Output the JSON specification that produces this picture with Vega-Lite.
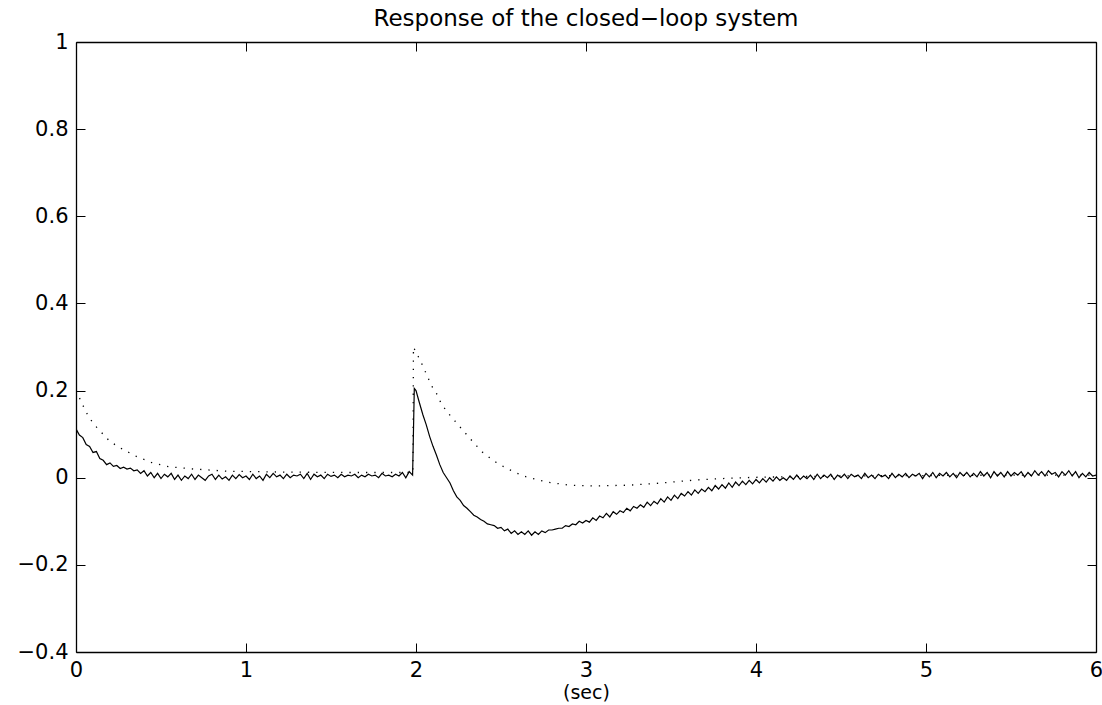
{
  "$schema": "https://vega.github.io/schema/vega-lite/v6.json",
  "width": 1020,
  "height": 610,
  "autosize": {"type": "none"},
  "padding": {"left": 76, "top": 42, "right": 6, "bottom": 53},
  "background": "white",
  "config": {
    "view": {"stroke": null},
    "font": "DejaVu Sans",
    "axis": {"grid": false, "domainColor": "black", "domainWidth": 1.3, "tickColor": "black", "tickWidth": 1, "labelColor": "black", "labelFont": "DejaVu Sans", "labelFontSize": 21, "titleFont": "DejaVu Sans", "titleFontWeight": "normal", "titleColor": "black"}
  },
  "title": {"text": "Response of the closed−loop system", "font": "DejaVu Sans", "fontSize": 23, "fontWeight": "normal", "color": "black", "offset": 0, "anchor": "middle", "frame": "group"},
  "datasets": {
    "solid": [
      {"t":0.00,"v":0.112},{"t":0.02,"v":0.098},{"t":0.04,"v":0.092},{"t":0.06,"v":0.076},{"t":0.08,"v":0.072},{"t":0.10,"v":0.058},{"t":0.12,"v":0.060},{"t":0.14,"v":0.044},{"t":0.16,"v":0.040},{"t":0.18,"v":0.030},
      {"t":0.20,"v":0.034},{"t":0.22,"v":0.026},{"t":0.24,"v":0.028},{"t":0.26,"v":0.021},{"t":0.28,"v":0.024},{"t":0.30,"v":0.020},{"t":0.32,"v":0.022},{"t":0.34,"v":0.016},{"t":0.36,"v":0.018},{"t":0.38,"v":0.010},
      {"t":0.40,"v":0.016},{"t":0.42,"v":0.004},{"t":0.44,"v":0.012},{"t":0.46,"v":0.000},{"t":0.48,"v":0.010},{"t":0.50,"v":-0.002},{"t":0.52,"v":0.008},{"t":0.54,"v":0.002},{"t":0.56,"v":0.010},{"t":0.58,"v":-0.004},
      {"t":0.60,"v":0.006},{"t":0.62,"v":-0.006},{"t":0.64,"v":0.004},{"t":0.66,"v":-0.002},{"t":0.68,"v":0.008},{"t":0.70,"v":-0.004},{"t":0.72,"v":0.006},{"t":0.74,"v":0.000},{"t":0.76,"v":-0.006},{"t":0.78,"v":0.004},
      {"t":0.80,"v":0.008},{"t":0.82,"v":-0.004},{"t":0.84,"v":0.006},{"t":0.86,"v":-0.003},{"t":0.88,"v":0.002},{"t":0.90,"v":-0.006},{"t":0.92,"v":0.006},{"t":0.94,"v":-0.002},{"t":0.96,"v":0.007},{"t":0.98,"v":0.000},
      {"t":1.00,"v":0.004},{"t":1.02,"v":-0.004},{"t":1.04,"v":0.008},{"t":1.06,"v":-0.002},{"t":1.08,"v":0.004},{"t":1.10,"v":-0.006},{"t":1.12,"v":0.008},{"t":1.14,"v":0.000},{"t":1.16,"v":0.010},{"t":1.18,"v":0.002},
      {"t":1.20,"v":0.006},{"t":1.22,"v":-0.002},{"t":1.24,"v":0.008},{"t":1.26,"v":0.000},{"t":1.28,"v":0.006},{"t":1.30,"v":0.004},{"t":1.32,"v":0.008},{"t":1.34,"v":-0.002},{"t":1.36,"v":0.010},{"t":1.38,"v":-0.004},
      {"t":1.40,"v":0.008},{"t":1.42,"v":0.002},{"t":1.44,"v":0.006},{"t":1.46,"v":-0.002},{"t":1.48,"v":0.008},{"t":1.50,"v":0.003},{"t":1.52,"v":0.006},{"t":1.54,"v":0.000},{"t":1.56,"v":0.008},{"t":1.58,"v":0.002},
      {"t":1.60,"v":0.006},{"t":1.62,"v":0.004},{"t":1.64,"v":0.008},{"t":1.66,"v":0.000},{"t":1.68,"v":0.006},{"t":1.70,"v":0.002},{"t":1.72,"v":0.008},{"t":1.74,"v":0.004},{"t":1.76,"v":0.006},{"t":1.78,"v":0.000},
      {"t":1.80,"v":0.010},{"t":1.82,"v":0.004},{"t":1.84,"v":0.006},{"t":1.86,"v":0.002},{"t":1.88,"v":0.008},{"t":1.90,"v":0.004},{"t":1.92,"v":0.012},{"t":1.94,"v":0.000},{"t":1.96,"v":0.014},{"t":1.98,"v":0.006},
      {"t":1.99,"v":0.205},{"t":2.00,"v":0.200},{"t":2.02,"v":0.172},{"t":2.04,"v":0.145},{"t":2.06,"v":0.122},{"t":2.08,"v":0.095},{"t":2.10,"v":0.072},{"t":2.12,"v":0.052},{"t":2.14,"v":0.030},{"t":2.16,"v":0.012},{"t":2.18,"v":0.000},
      {"t":2.20,"v":-0.012},{"t":2.22,"v":-0.030},{"t":2.24,"v":-0.044},{"t":2.26,"v":-0.052},{"t":2.28,"v":-0.064},{"t":2.30,"v":-0.070},{"t":2.32,"v":-0.078},{"t":2.34,"v":-0.086},{"t":2.36,"v":-0.090},{"t":2.38,"v":-0.096},
      {"t":2.40,"v":-0.100},{"t":2.42,"v":-0.106},{"t":2.44,"v":-0.108},{"t":2.46,"v":-0.110},{"t":2.48,"v":-0.116},{"t":2.50,"v":-0.114},{"t":2.52,"v":-0.122},{"t":2.54,"v":-0.118},{"t":2.56,"v":-0.128},{"t":2.58,"v":-0.122},
      {"t":2.60,"v":-0.130},{"t":2.62,"v":-0.124},{"t":2.64,"v":-0.130},{"t":2.66,"v":-0.122},{"t":2.68,"v":-0.132},{"t":2.70,"v":-0.124},{"t":2.72,"v":-0.130},{"t":2.74,"v":-0.122},{"t":2.76,"v":-0.126},{"t":2.78,"v":-0.120},
      {"t":2.80,"v":-0.120},{"t":2.82,"v":-0.118},{"t":2.84,"v":-0.116},{"t":2.86,"v":-0.116},{"t":2.88,"v":-0.110},{"t":2.90,"v":-0.112},{"t":2.92,"v":-0.106},{"t":2.94,"v":-0.108},{"t":2.96,"v":-0.100},{"t":2.98,"v":-0.104},
      {"t":3.00,"v":-0.098},{"t":3.02,"v":-0.102},{"t":3.04,"v":-0.092},{"t":3.06,"v":-0.098},{"t":3.08,"v":-0.088},{"t":3.10,"v":-0.092},{"t":3.12,"v":-0.082},{"t":3.14,"v":-0.090},{"t":3.16,"v":-0.078},{"t":3.18,"v":-0.084},
      {"t":3.20,"v":-0.076},{"t":3.22,"v":-0.080},{"t":3.24,"v":-0.070},{"t":3.26,"v":-0.076},{"t":3.28,"v":-0.066},{"t":3.30,"v":-0.070},{"t":3.32,"v":-0.062},{"t":3.34,"v":-0.068},{"t":3.36,"v":-0.056},{"t":3.38,"v":-0.064},
      {"t":3.40,"v":-0.054},{"t":3.42,"v":-0.060},{"t":3.44,"v":-0.048},{"t":3.46,"v":-0.056},{"t":3.48,"v":-0.044},{"t":3.50,"v":-0.052},{"t":3.52,"v":-0.040},{"t":3.54,"v":-0.048},{"t":3.56,"v":-0.036},{"t":3.58,"v":-0.042},
      {"t":3.60,"v":-0.032},{"t":3.62,"v":-0.040},{"t":3.64,"v":-0.028},{"t":3.66,"v":-0.036},{"t":3.68,"v":-0.026},{"t":3.70,"v":-0.032},{"t":3.72,"v":-0.022},{"t":3.74,"v":-0.030},{"t":3.76,"v":-0.018},{"t":3.78,"v":-0.026},
      {"t":3.80,"v":-0.016},{"t":3.82,"v":-0.024},{"t":3.84,"v":-0.012},{"t":3.86,"v":-0.022},{"t":3.88,"v":-0.010},{"t":3.90,"v":-0.018},{"t":3.92,"v":-0.008},{"t":3.94,"v":-0.016},{"t":3.96,"v":-0.006},{"t":3.98,"v":-0.014},
      {"t":4.00,"v":-0.004},{"t":4.02,"v":-0.012},{"t":4.04,"v":-0.002},{"t":4.06,"v":-0.010},{"t":4.08,"v":0.000},{"t":4.10,"v":-0.008},{"t":4.12,"v":0.002},{"t":4.14,"v":-0.006},{"t":4.16,"v":0.000},{"t":4.18,"v":-0.006},
      {"t":4.20,"v":0.004},{"t":4.22,"v":-0.004},{"t":4.24,"v":0.006},{"t":4.26,"v":-0.004},{"t":4.28,"v":0.004},{"t":4.30,"v":-0.002},{"t":4.32,"v":0.006},{"t":4.34,"v":-0.004},{"t":4.36,"v":0.008},{"t":4.38,"v":-0.002},
      {"t":4.40,"v":0.006},{"t":4.42,"v":0.000},{"t":4.44,"v":0.008},{"t":4.46,"v":-0.004},{"t":4.48,"v":0.006},{"t":4.50,"v":0.000},{"t":4.52,"v":0.008},{"t":4.54,"v":-0.002},{"t":4.56,"v":0.008},{"t":4.58,"v":0.002},
      {"t":4.60,"v":0.006},{"t":4.62,"v":-0.002},{"t":4.64,"v":0.010},{"t":4.66,"v":0.000},{"t":4.68,"v":0.006},{"t":4.70,"v":-0.002},{"t":4.72,"v":0.008},{"t":4.74,"v":0.002},{"t":4.76,"v":0.006},{"t":4.78,"v":-0.002},
      {"t":4.80,"v":0.010},{"t":4.82,"v":0.000},{"t":4.84,"v":0.008},{"t":4.86,"v":0.002},{"t":4.88,"v":0.010},{"t":4.90,"v":0.000},{"t":4.92,"v":0.008},{"t":4.94,"v":0.004},{"t":4.96,"v":0.010},{"t":4.98,"v":-0.002},
      {"t":5.00,"v":0.010},{"t":5.02,"v":0.002},{"t":5.04,"v":0.012},{"t":5.06,"v":0.000},{"t":5.08,"v":0.010},{"t":5.10,"v":0.004},{"t":5.12,"v":0.012},{"t":5.14,"v":0.002},{"t":5.16,"v":0.010},{"t":5.18,"v":0.000},
      {"t":5.20,"v":0.012},{"t":5.22,"v":0.004},{"t":5.24,"v":0.012},{"t":5.26,"v":0.002},{"t":5.28,"v":0.010},{"t":5.30,"v":0.002},{"t":5.32,"v":0.014},{"t":5.34,"v":0.004},{"t":5.36,"v":0.012},{"t":5.38,"v":0.000},
      {"t":5.40,"v":0.014},{"t":5.42,"v":0.004},{"t":5.44,"v":0.012},{"t":5.46,"v":0.002},{"t":5.48,"v":0.014},{"t":5.50,"v":0.004},{"t":5.52,"v":0.012},{"t":5.54,"v":0.006},{"t":5.56,"v":0.014},{"t":5.58,"v":0.002},
      {"t":5.60,"v":0.012},{"t":5.62,"v":0.004},{"t":5.64,"v":0.016},{"t":5.66,"v":0.006},{"t":5.68,"v":0.014},{"t":5.70,"v":0.004},{"t":5.72,"v":0.016},{"t":5.74,"v":0.008},{"t":5.76,"v":0.012},{"t":5.78,"v":0.002},
      {"t":5.80,"v":0.014},{"t":5.82,"v":0.006},{"t":5.84,"v":0.016},{"t":5.86,"v":0.004},{"t":5.88,"v":0.014},{"t":5.90,"v":0.000},{"t":5.92,"v":0.010},{"t":5.94,"v":0.002},{"t":5.96,"v":0.012},{"t":5.98,"v":0.004},
      {"t":6.00,"v":0.006}
    ],
    "dotted": [
      {"t":0.00,"v":0.200},{"t":0.03,"v":0.175},{"t":0.06,"v":0.150},{"t":0.10,"v":0.125},{"t":0.14,"v":0.108},{"t":0.20,"v":0.083},{"t":0.28,"v":0.064},{"t":0.36,"v":0.048},{"t":0.45,"v":0.034},{"t":0.55,"v":0.025},
      {"t":0.69,"v":0.020},{"t":0.89,"v":0.015},{"t":1.20,"v":0.013},{"t":1.60,"v":0.012},{"t":1.982,"v":0.012},{"t":1.985,"v":0.300},{"t":2.03,"v":0.265},{"t":2.07,"v":0.230},{"t":2.10,"v":0.205},{"t":2.12,"v":0.194},
      {"t":2.15,"v":0.169},{"t":2.19,"v":0.148},{"t":2.24,"v":0.125},{"t":2.30,"v":0.098},{"t":2.34,"v":0.080},{"t":2.39,"v":0.059},{"t":2.46,"v":0.038},{"t":2.53,"v":0.022},{"t":2.63,"v":0.004},{"t":2.77,"v":-0.010},
      {"t":2.90,"v":-0.017},{"t":3.06,"v":-0.019},{"t":3.26,"v":-0.017},{"t":3.45,"v":-0.012},{"t":3.65,"v":-0.005},{"t":3.85,"v":-0.001},{"t":4.00,"v":0.001},{"t":4.50,"v":0.004},{"t":5.00,"v":0.005},{"t":5.50,"v":0.006},{"t":6.00,"v":0.006}
    ]
  },
  "layer": [
    {
      "data": {"name": "solid"},
      "mark": {"type": "line", "color": "black", "strokeWidth": 1.2, "clip": true},
      "encoding": {
        "x": {"field": "t", "type": "quantitative", "scale": {"domain": [0, 6], "nice": false, "zero": false},
              "axis": {"orient": "bottom", "values": [0,1,2,3,4,5,6], "tickSize": -9, "labelPadding": 16, "title": "(sec)", "titleFontSize": 19, "titlePadding": 3, "labelFlush": false}},
        "y": {"field": "v", "type": "quantitative", "scale": {"domain": [-0.4, 1], "nice": false, "zero": false},
              "axis": {"orient": "left", "values": [-0.4,-0.2,0,0.2,0.4,0.6,0.8,1], "format": "~g", "tickSize": -9, "labelPadding": 17, "title": null, "labelFlush": false}}
      }
    },
    {
      "data": {"name": "dotted"},
      "mark": {"type": "line", "color": "black", "strokeWidth": 1.3, "strokeDash": [1.3, 7], "clip": true},
      "encoding": {
        "x": {"field": "t", "type": "quantitative",
              "axis": {"orient": "top", "values": [0,1,2,3,4,5,6], "tickSize": -9, "labels": false, "title": null}},
        "y": {"field": "v", "type": "quantitative",
              "axis": {"orient": "right", "values": [-0.4,-0.2,0,0.2,0.4,0.6,0.8,1], "tickSize": -9, "labels": false, "title": null}}
      }
    }
  ],
  "resolve": {"axis": {"x": "independent", "y": "independent"}}
}
